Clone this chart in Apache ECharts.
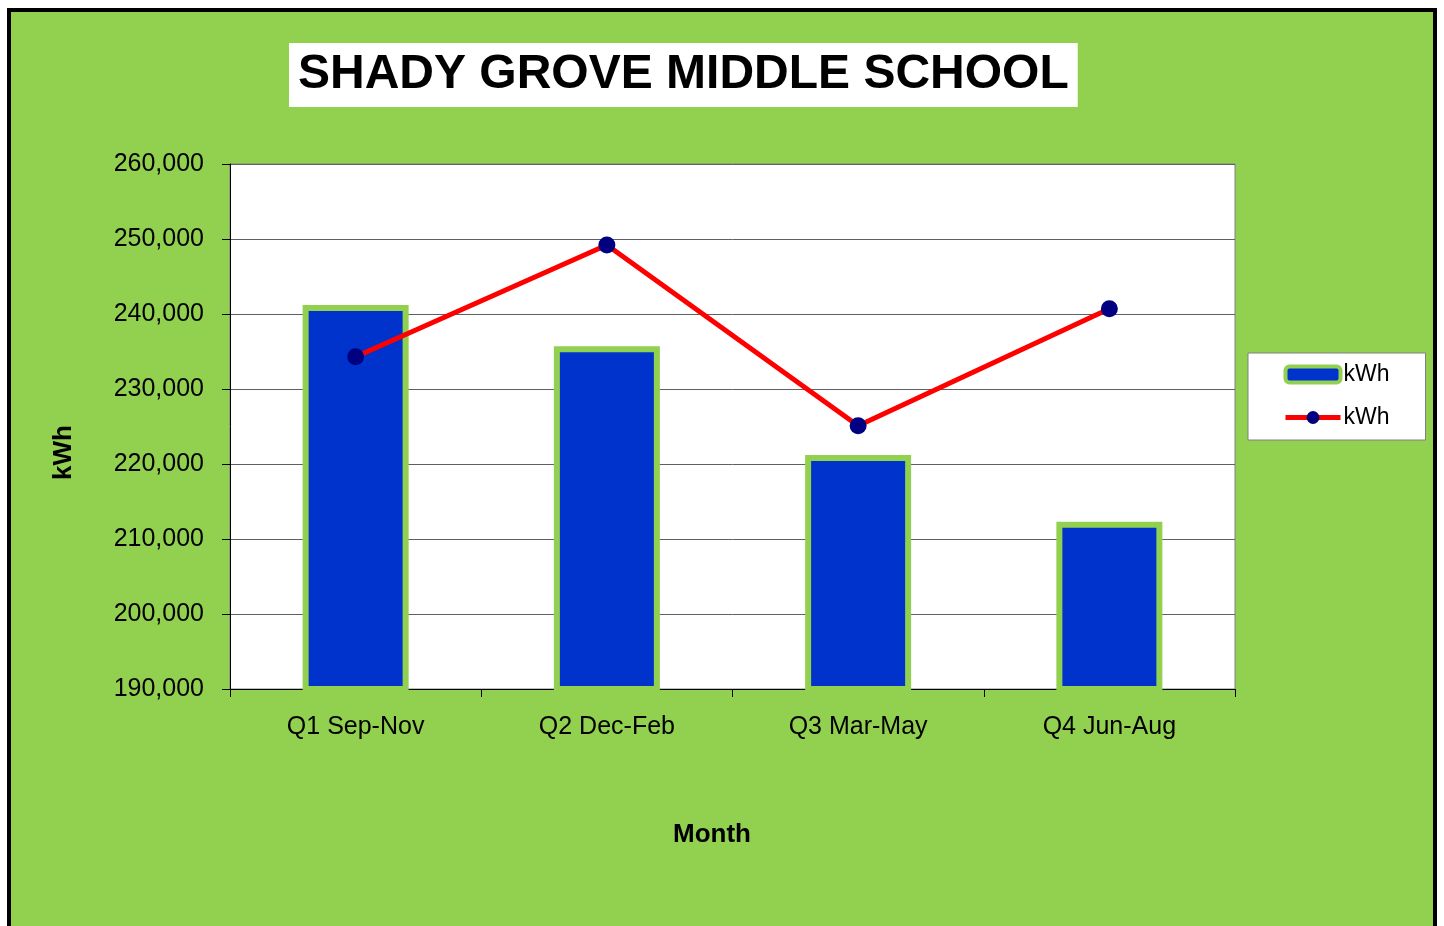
<!DOCTYPE html>
<html>
<head>
<meta charset="utf-8">
<script src="https://cdn.jsdelivr.net/npm/echarts@6/dist/echarts.min.js"></script>
<style>
  html, body { margin: 0; padding: 0; background: #fff; }
  #chart { width: 1444px; height: 926px; }
</style>
</head>
<body>
<div id="chart"></div>
<script>
const categories = ['Q1 Sep-Nov', 'Q2 Dec-Feb', 'Q3 Mar-May', 'Q4 Jun-Aug'];
const barValues = [241200, 235700, 221200, 212300];
const lineValues = [234300, 249200, 225100, 240700];
const yTicks = { min: 190000, max: 260000, step: 10000 };

const narrow = "'Liberation Sans Narrow', 'Arial Narrow', 'Liberation Sans', sans-serif";
const sans = "'Liberation Sans', Arial, sans-serif";

const chart = echarts.init(document.getElementById('chart'));

const option = {
  backgroundColor: '#fff',
  animation: false,
  graphic: [
    {
      type: 'rect',
      z: -10,
      shape: { x: 9, y: 10, width: 1426, height: 940 },
      style: { fill: '#92D050', stroke: '#000', lineWidth: 4 },
    },
    {
      type: 'text',
      left: 51,
      top: 425,
      rotation: Math.PI / 2,
      style: { text: 'kWh', font: 'bold 26px ' + sans, fill: '#000' },
    },
    {
      type: 'text',
      left: 673,
      top: 822,
      style: { text: 'Month', font: 'bold 26px ' + sans, fill: '#000' },
    },
  ],
  title: {
    text: 'SHADY GROVE MIDDLE SCHOOL',
    left: 289,
    top: 43,
    backgroundColor: '#fff',
    padding: [8, 9, 8, 9],
    textStyle: { fontFamily: sans, fontWeight: 'bold', fontSize: 48, color: '#000' },
  },
  legend: {
    left: 1248,
    top: 353,
    orient: 'vertical',
    backgroundColor: '#fff',
    borderColor: '#808080',
    borderWidth: 1,
    padding: [10, 36, 11, 35],
    itemGap: 20,
    itemWidth: 55,
    itemHeight: 16,
    textStyle: { fontFamily: sans, fontSize: 23, color: '#000', padding: [0, 0, 0, -2] },
    data: [
      { name: 'kWh', itemStyle: { color: '#0033CC', borderColor: '#92D050', borderWidth: 4 } },
      { name: 'kWh ', lineStyle: { color: '#FF0000', width: 5 } },
    ],
    formatter: (n) => n.trim(),
  },
  grid: {
    left: 230,
    right: 209,
    top: 164,
    bottom: 237,
    show: true,
    backgroundColor: '#fff',
    borderColor: '#808080',
    borderWidth: 1,
  },
  xAxis: {
    type: 'category',
    data: categories,
    axisLine: { lineStyle: { color: '#000', width: 1 } },
    axisTick: { show: true, length: 8, lineStyle: { color: '#000' } },
    axisLabel: { fontFamily: narrow, fontSize: 25, color: '#000', margin: 26 },
  },
  yAxis: {
    type: 'value',
    min: yTicks.min,
    max: yTicks.max,
    interval: yTicks.step,
    axisLine: { show: true, lineStyle: { color: '#000', width: 1 } },
    axisTick: { show: true, length: 8, lineStyle: { color: '#000' } },
    axisLabel: {
      fontFamily: narrow,
      fontSize: 25,
      color: '#000',
      margin: 26,
      formatter: (v) => v.toLocaleString('en-US'),
    },
    splitLine: { lineStyle: { color: '#606060', width: 1 } },
  },
  series: [
    {
      name: 'kWh',
      type: 'bar',
      data: barValues,
      barWidth: 106,
      itemStyle: { color: '#0033CC', borderColor: '#92D050', borderWidth: 6 },
    },
    {
      name: 'kWh ',
      type: 'line',
      data: lineValues,
      symbol: 'circle',
      symbolSize: 17,
      lineStyle: { color: '#FF0000', width: 5 },
      itemStyle: { color: '#000080' },
      z: 5,
    },
  ],
};

chart.setOption(option);
</script>
</body>
</html>
